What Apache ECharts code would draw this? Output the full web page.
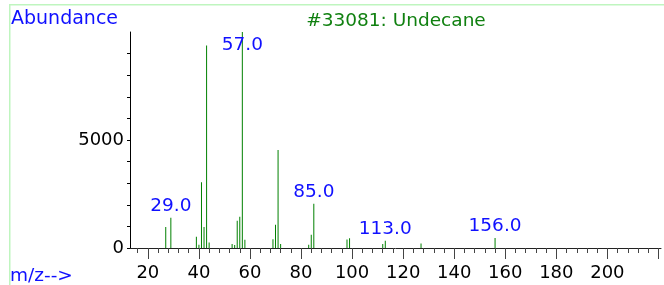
<!DOCTYPE html>
<html>
<head>
<meta charset="utf-8">
<script src="https://cdn.jsdelivr.net/npm/echarts@6/dist/echarts.min.js"></script>
<style>
html,body{margin:0;padding:0;background:#fff;}
#chart{width:664px;height:285px;}
</style>
</head>
<body>
<div id="chart"></div>
<script>
// mass spectrum of undecane
var mzValues = [27, 29, 39, 40, 41, 42, 43, 44, 53, 54, 55, 56, 57, 58, 69, 70, 71, 72, 83, 84, 85, 98, 99, 112, 113, 127, 156];
var abundances = [970, 1400, 520, 150, 3040, 970, 9370, 260, 185, 140, 1260, 1450, 10000, 385, 400, 1080, 4540, 185, 150, 615, 2050, 390, 455, 190, 340, 205, 460];
var labelledPeaks = [29, 57, 85, 113, 156];

var xMinorTicks = [16, 20, 24, 28, 32, 36, 40, 44, 48, 52, 56, 60, 64, 68, 72, 76, 80, 84, 88, 92, 96, 100, 104, 108, 112, 116, 120, 124, 128, 132, 136, 140, 144, 148, 152, 156, 160, 164, 168, 172, 176, 180, 184, 188, 192, 196, 200, 204, 208, 212, 216, 220];
var xMajorTicks = [20, 40, 60, 80, 100, 120, 140, 160, 180, 200, 220];
var xTickLabels = [20, 40, 60, 80, 100, 120, 140, 160, 180, 200];
var yTicks = [0, 1000, 2000, 3000, 4000, 5000, 6000, 7000, 8000, 9000];
var yTickLabels = [0, 5000];

var FONT = 'DejaVu Sans';

var chart = echarts.init(document.getElementById('chart'), null, {renderer: 'canvas'});

var data = [];
for (var i = 0; i < mzValues.length; i++) {
    var item = {value: [mzValues[i], abundances[i]]};
    if (labelledPeaks.indexOf(mzValues[i]) >= 0) {
        // the base peak label is pushed inside the plot
        var atTop = abundances[i] >= 9900;
        item.label = {
            show: true,
            formatter: mzValues[i].toFixed(1),
            position: atTop ? 'insideTop' : 'top',
            distance: atTop ? 4 : 2,
            color: '#1010ff',
            fontFamily: FONT,
            fontSize: 18.5
        };
    }
    data.push(item);
}

var option = {
    animation: false,
    backgroundColor: '#fff',
    grid: {left: 130, right: 3, top: 32, bottom: 37},
    xAxis: [{
        type: 'value',
        min: 13,
        max: 221,
        position: 'bottom',
        splitLine: {show: false},
        axisLine: {show: true, lineStyle: {color: '#222', width: 1}},
        axisTick: {show: true, length: 5, customValues: xMinorTicks, lineStyle: {color: '#444'}},
        axisLabel: {show: false}
    }, {
        type: 'value',
        min: 13,
        max: 221,
        position: 'bottom',
        splitLine: {show: false},
        axisLine: {show: false},
        axisTick: {show: true, length: 11, customValues: xMajorTicks, lineStyle: {color: '#444'}},
        axisLabel: {
            show: true,
            customValues: xTickLabels,
            margin: 16,
            color: '#000',
            fontFamily: FONT,
            fontSize: 18
        }
    }],
    yAxis: {
        type: 'value',
        min: 0,
        max: 10000,
        splitLine: {show: false},
        axisLine: {show: true, lineStyle: {color: '#000', width: 1}},
        axisTick: {show: true, length: 3, customValues: yTicks, lineStyle: {color: '#000'}},
        axisLabel: {
            show: true,
            customValues: yTickLabels,
            formatter: function (v) { return String(v); },
            margin: 6,
            color: '#000',
            fontFamily: FONT,
            fontSize: 18
        }
    },
    graphic: [
        {type: 'rect', shape: {x: 9, y: 4, width: 700, height: 1.5}, style: {fill: '#bff5bf'}, silent: true},
        {type: 'rect', shape: {x: 9, y: 4, width: 1.5, height: 300}, style: {fill: '#bff5bf'}, silent: true},
        {type: 'text', left: 11, top: 9.5, style: {text: 'Abundance', fill: '#1010ff', font: '19px "DejaVu Sans"'}},
        {type: 'text', x: 396, y: 21, style: {text: '#33081: Undecane', fill: '#108010', font: '18.5px "DejaVu Sans"', align: 'center', verticalAlign: 'middle'}},
        {type: 'text', x: 10, y: 276, style: {text: 'm/z-->', fill: '#1010ff', font: '18.5px "DejaVu Sans"', verticalAlign: 'middle'}}
    ],
    series: [{
        type: 'bar',
        xAxisIndex: 0,
        barWidth: 1,
        itemStyle: {color: '#008000'},
        data: data
    }]
};

chart.setOption(option);
</script>
</body>
</html>
